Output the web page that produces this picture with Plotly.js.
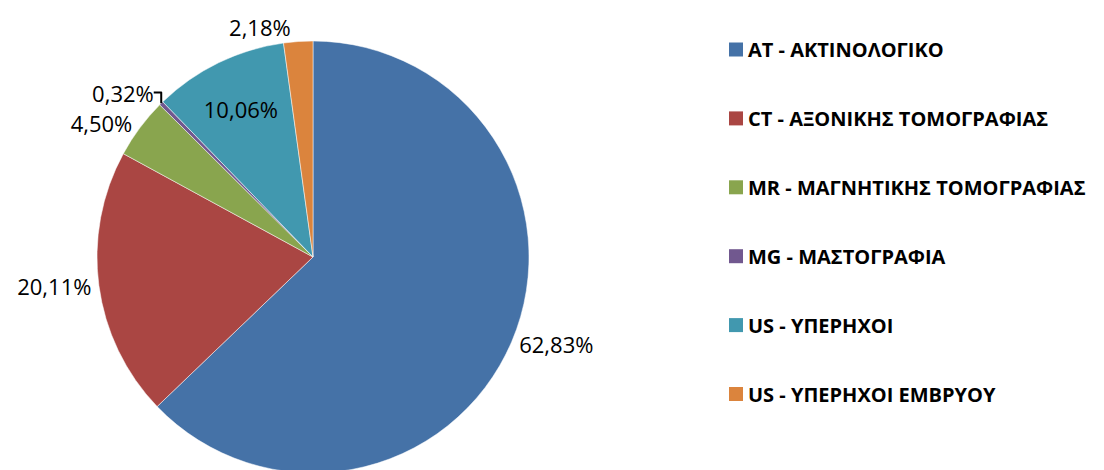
<!DOCTYPE html>
<html>
<head>
<meta charset="utf-8">
<script src="https://cdn.plot.ly/plotly-3.0.1.min.js"></script>
<style>
html,body{margin:0;padding:0;background:#fff;overflow:hidden;}
#chart{width:1104px;height:480px;}
</style>
</head>
<body>
<div id="chart"></div>
<script>
// Data
const labels = [
  "AT - ΑΚΤΙΝΟΛΟΓΙΚΟ",
  "CT - ΑΞΟΝΙΚΗΣ ΤΟΜΟΓΡΑΦΙΑΣ",
  "MR - ΜΑΓΝΗΤΙΚΗΣ ΤΟΜΟΓΡΑΦΙΑΣ",
  "MG - ΜΑΣΤΟΓΡΑΦΙΑ",
  "US - ΥΠΕΡΗΧΟΙ",
  "US - ΥΠΕΡΗΧΟΙ ΕΜΒΡΥΟΥ"
];
const values = [62.83, 20.11, 4.50, 0.32, 10.06, 2.18];
const colors = ["#4572A7", "#AA4643", "#89A54E", "#71588F", "#4198AF", "#DB843D"];
const labelPositions = ["outside", "outside", "outside", "outside", "inside", "outside"];

// Layout constants
const W = 1104, H = 480;
const cx = 313, cy = 257, r = 216;
const legendTextX = 746, legendSwatchX = 729, swatch = 14;
const legendTop = 49.5, legendStep = 68.9;
const fontFamily = "'Open Sans', 'DejaVu Sans', sans-serif";

const trace = {
  type: "pie",
  labels: labels,
  values: values,
  sort: false,
  direction: "clockwise",
  rotation: 0,
  marker: {colors: colors, line: {color: "#ffffff", width: 0.5}},
  textposition: labelPositions,
  texttemplate: "%{percent:.2%}",
  textfont: {family: fontFamily, size: 22, color: "#000000"},
  insidetextfont: {family: fontFamily, size: 22, color: "#000000"},
  outsidetextfont: {family: fontFamily, size: 22, color: "#000000"},
  insidetextorientation: "horizontal",
  hoverinfo: "label+percent",
  showlegend: false,
  domain: {
    x: [(cx - r) / W, (cx + r) / W],
    y: [(H - cy - r) / H, (H - cy + r) / H]
  }
};

const annotations = [];
const shapes = [];
labels.forEach((lab, i) => {
  const yc = legendTop + i * legendStep;
  annotations.push({
    xref: "paper", yref: "paper",
    x: legendTextX / W, y: (H - yc) / H,
    xanchor: "left", yanchor: "middle",
    text: "<b>" + lab + "</b>",
    showarrow: false,
    font: {family: "'Open Sans', Roboto, sans-serif", size: 20, color: "#000000"}
  });
  shapes.push({
    type: "rect", xref: "paper", yref: "paper",
    x0: legendSwatchX / W, x1: (legendSwatchX + swatch) / W,
    y0: (H - yc - swatch / 2) / H, y1: (H - yc + swatch / 2) / H,
    fillcolor: colors[i], line: {width: 0}
  });
});

const layout = {
  width: W, height: H,
  margin: {l: 0, r: 0, t: 0, b: 0},
  paper_bgcolor: "#ffffff",
  plot_bgcolor: "#ffffff",
  separators: ",.",
  showlegend: false,
  annotations: annotations,
  shapes: shapes
};

Plotly.newPlot("chart", [trace], layout, {displayModeBar: false, staticPlot: true});
</script>
</body>
</html>
